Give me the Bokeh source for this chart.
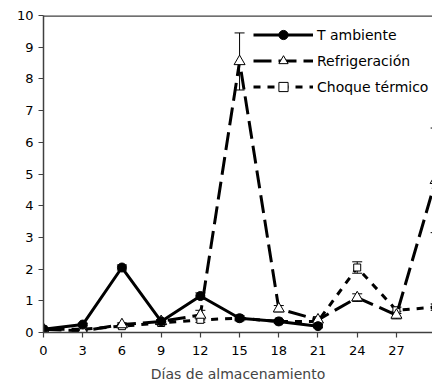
from bokeh.plotting import figure
from bokeh.models import Span, FixedTicker, Legend, LegendItem, Range1d
from bokeh.embed import file_html
from bokeh.resources import INLINE

# ---- data ----
dias = [0, 3, 6, 9, 12, 15, 18, 21, 24, 27, 30]
t_amb_dias = [0, 3, 6, 9, 12, 15, 18, 21]
t_amb = [0.1, 0.25, 2.05, 0.35, 1.15, 0.45, 0.35, 0.2]
t_amb_err = [0.04, 0.04, 0.08, 0.05, 0.1, 0.05, 0.04, 0.05]
refrig = [0.1, 0.05, 0.25, 0.35, 0.55, 8.55, 0.75, 0.4, 1.1, 0.55, 4.8]
refrig_err = [0.03, 0.03, 0.05, 0.05, 0.15, 0.9, 0.1, 0.1, 0.12, 0.12, 1.65]
choque = [0.1, 0.1, 0.2, 0.3, 0.4, 0.45, 0.35, 0.35, 2.05, 0.7, 0.8]
choque_err = [0.03, 0.03, 0.05, 0.05, 0.08, 0.08, 0.06, 0.1, 0.18, 0.1, 0.1]
x_ticks = [0, 3, 6, 9, 12, 15, 18, 21, 24, 27, 30]
y_ticks = [0, 1, 2, 3, 4, 5, 6, 7, 8, 9, 10]
x_label = "Días de almacenamiento"
names = ["T ambiente", "Refrigeración", "Choque térmico"]

FONT = "DejaVu Sans"
AX = "#404040"

p = figure(width=432, height=387, output_backend="svg", toolbar_location=None,
           x_range=Range1d(0, 29.76), y_range=Range1d(0, 10),
           min_border_left=43, min_border_right=0, min_border_top=15, min_border_bottom=55)
p.outline_line_color = None
p.xgrid.visible = False
p.ygrid.visible = False
p.background_fill_color = "white"

for ax in (p.xaxis[0], p.yaxis[0]):
    ax.axis_line_color = AX
    ax.axis_line_width = 1.5
    ax.major_tick_line_color = AX
    ax.major_tick_line_width = 1.2
    ax.major_tick_in = 0
    ax.major_tick_out = 5
    ax.minor_tick_line_color = None
    ax.major_label_text_font = FONT
    ax.major_label_text_font_size = "13px"
    ax.major_label_text_color = "black"

p.xaxis.ticker = FixedTicker(ticks=x_ticks)
p.yaxis.ticker = FixedTicker(ticks=y_ticks)
p.xaxis.major_label_standoff = 8
p.yaxis.major_label_standoff = 5
p.xaxis.axis_label = x_label
p.xaxis.axis_label_text_font = FONT
p.xaxis.axis_label_text_font_size = "14px"
p.xaxis.axis_label_text_font_style = "normal"
p.xaxis.axis_label_standoff = 8

p.add_layout(Span(location=y_ticks[-1], dimension="width", line_color=AX, line_width=2.5))

series = [
    (t_amb_dias, t_amb, t_amb_err),
    (dias, refrig, refrig_err),
    (dias, choque, choque_err),
]

# error bars
for xs, ys, es in series:
    lo = [y - e for y, e in zip(ys, es)]
    hi = [y + e for y, e in zip(ys, es)]
    p.segment(x0=xs, y0=lo, x1=xs, y1=hi, line_color="black", line_width=1)
    p.scatter(x=xs, y=hi, marker="dash", size=10, line_color="black", line_width=1)
    p.scatter(x=xs, y=lo, marker="dash", size=10, line_color="black", line_width=1)

l3 = p.line(dias, choque, line_color="black", line_width=3, line_dash="7 7")
m3 = p.scatter(dias, choque, marker="square", size=7, fill_color="white",
               line_color="black", line_width=1)
l2 = p.line(dias, refrig, line_color="black", line_width=3, line_dash="18 7")
m2 = p.scatter(dias, refrig, marker="triangle", size=11, fill_color="white",
               line_color="black", line_width=1)
l1 = p.line(t_amb_dias, t_amb, line_color="black", line_width=3)
m1 = p.scatter(t_amb_dias, t_amb, marker="circle", size=9, fill_color="black",
               line_color="black")

legend = Legend(items=[
    LegendItem(label=names[0], renderers=[l1, m1]),
    LegendItem(label=names[1], renderers=[l2, m2]),
    LegendItem(label=names[2], renderers=[l3, m3]),
], location=(210, 234))
legend.background_fill_alpha = 0
legend.border_line_color = None
legend.padding = 0
legend.margin = 0
legend.spacing = 3
legend.glyph_width = 60
legend.glyph_height = 23
legend.label_height = 23
legend.label_standoff = 4
legend.label_text_font = FONT
legend.label_text_font_size = "14px"
legend.label_text_color = "black"
p.add_layout(legend, "center")

open("out.html", "w").write(file_html(p, INLINE))
